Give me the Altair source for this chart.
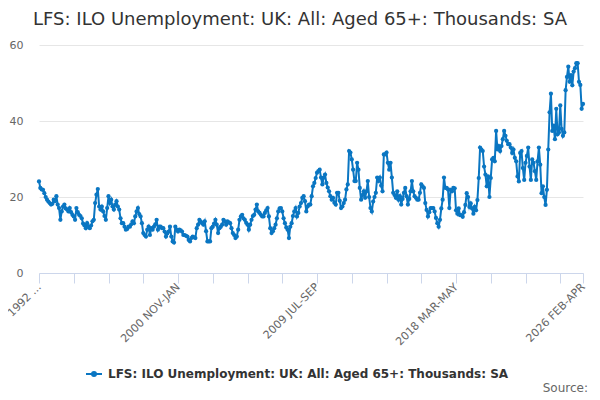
import altair as alt
import pandas as pd

series_name = "LFS: ILO Unemployment: UK: All: Aged 65+: Thousands: SA"

values = [
    24.1, 22.4, 22.0, 21.9, 21.0, 20.0, 19.3, 18.8, 18.4, 18.0,
    18.2, 19.3, 18.9, 20.2, 18.0, 17.1, 14.0, 16.2, 17.5, 18.0,
    17.0, 16.7, 16.2, 17.1, 16.0, 15.3, 14.9, 14.0, 17.1, 16.0,
    15.3, 15.0, 14.4, 13.0, 12.5, 11.8, 13.1, 12.2, 11.8, 12.5,
    13.6, 14.0, 18.4, 20.6, 22.1, 17.5, 16.7, 17.5, 16.2, 15.0,
    14.0, 17.1, 20.2, 18.4, 19.3, 17.5, 16.7, 18.0, 18.9, 17.5,
    16.7, 14.4, 13.1, 13.1, 12.2, 11.4, 11.6, 12.2, 12.2, 12.8,
    13.6, 13.1, 14.9, 16.2, 17.1, 15.5, 14.9, 13.1, 10.5, 10.0,
    9.6, 11.4, 12.2, 10.0, 11.8, 11.4, 12.2, 12.8, 14.0, 11.4,
    12.2, 12.2, 11.8, 11.8, 10.9, 9.6, 10.4, 10.9, 12.2, 9.6,
    8.3, 8.0, 12.2, 11.4, 10.9, 11.4, 11.2, 10.9, 10.0, 10.0,
    9.8, 9.6, 8.7, 8.3, 9.2, 9.6, 9.4, 9.2, 11.8, 12.7,
    14.0, 13.5, 13.1, 12.7, 13.6, 11.0, 8.3, 8.3, 8.3, 11.8,
    12.2, 13.0, 14.0, 12.7, 10.5, 11.8, 12.2, 12.7, 14.0, 13.6,
    12.7, 13.6, 13.3, 13.1, 11.8, 10.5, 10.0, 9.2, 9.6, 11.4,
    14.0, 14.9, 15.3, 14.4, 14.0, 13.2, 12.7, 11.4, 12.7, 14.0,
    15.0, 15.3, 16.7, 18.0, 16.2, 15.8, 15.3, 14.9, 14.9, 15.8,
    16.5, 17.1, 14.9, 11.8, 10.5, 11.0, 11.8, 12.7, 14.4, 16.2,
    17.0, 17.1, 16.2, 14.4, 13.1, 12.0, 11.4, 9.2, 12.2, 13.1,
    15.0, 16.2, 17.1, 14.9, 15.8, 17.5, 18.4, 19.8, 20.2, 18.9,
    16.2, 17.5, 18.0, 18.0, 20.2, 22.8, 23.7, 25.0, 26.4, 26.8,
    27.2, 25.1, 23.3, 25.1, 25.9, 23.7, 22.5, 21.5, 20.2, 19.3,
    19.8, 18.5, 18.0, 21.1, 21.1, 19.0, 17.1, 17.5, 18.4, 19.3,
    22.0, 23.3, 32.1, 31.7, 29.9, 27.2, 24.2, 24.2, 29.0, 27.2,
    22.4, 19.3, 20.5, 21.5, 19.8, 21.5, 24.2, 20.0, 17.1, 16.2,
    18.8, 20.0, 21.1, 25.1, 24.2, 25.1, 23.0, 21.5, 31.2, 31.2,
    31.7, 29.0, 27.2, 29.0, 25.1, 21.1, 20.5, 19.8, 21.5, 19.3,
    20.2, 18.0, 19.5, 21.1, 22.4, 20.2, 18.0, 19.5, 21.5, 24.2,
    21.5, 20.2, 19.8, 19.3, 19.3, 21.1, 23.3, 22.8, 22.4, 18.4,
    16.6, 14.9, 16.0, 17.1, 17.1, 17.1, 16.2, 14.5, 13.1, 12.2,
    14.0, 17.0, 19.3, 25.1, 22.4, 22.4, 22.0, 17.1, 21.9, 21.5,
    22.4, 22.3, 16.5, 15.6, 17.0, 15.2, 15.2, 14.8, 16.0, 17.9,
    21.0, 20.0, 17.4, 18.3, 17.0, 15.6, 17.4, 16.5, 19.2, 25.0,
    33.0, 32.5, 32.1, 28.0, 25.9, 22.8, 25.4, 20.0, 25.0, 29.9,
    30.3, 29.4, 37.4, 32.5, 33.4, 32.1, 33.4, 35.2, 37.4, 36.1,
    34.8, 33.9, 33.9, 33.0, 31.6, 32.5, 30.3, 29.4, 25.4, 24.1,
    31.6, 32.1, 27.6, 24.5, 29.0, 30.8, 33.0, 28.0, 24.5, 29.9,
    29.0, 26.8, 24.5, 29.4, 33.0, 28.5, 21.0, 22.8, 20.0, 17.9,
    21.9, 32.5, 42.3, 47.2, 37.4, 38.8, 35.2, 43.2, 36.5, 37.0,
    44.1, 37.9, 36.1, 37.0, 48.1, 51.6, 54.3, 50.3, 52.1, 49.4,
    53.0, 53.9, 55.2, 55.2, 50.3, 49.5, 43.2, 44.5,
]

label_positions = [0, 104, 208, 312, 407]
label_texts = ["1992 ...", "2000 NOV-JAN", "2009 JUL-SEP", "2018 MAR-MAY", "2026 FEB-APR"]
tick_positions = list(range(0, 391, 26)) + [407]
y_ticks = [0, 20, 40, 60]

df = pd.DataFrame({
    "idx": list(range(len(values))),
    "value": values,
    "series": [series_name] * len(values),
})

label_expr = " : ".join(
    f"datum.value == {p} ? '{t}'" for p, t in zip(label_positions, label_texts)
) + " : ''"

BLUE = "#0a76c2"
FONT = "DejaVu Sans"

line = alt.Chart(df).mark_line(
    strokeWidth=2,
    point=alt.OverlayMarkDef(filled=True, size=18),
).encode(
    x=alt.X(
        "idx:Q",
        scale=alt.Scale(domain=[0, 407], nice=False, zero=False),
        axis=alt.Axis(
            values=tick_positions,
            labelExpr=label_expr,
            labelAngle=-45,
            labelAlign="right",
            labelBaseline="middle",
            labelPadding=2,
            labelOverlap=False,
            labelFlush=False,
            tickColor="#ccd6eb",
            domainColor="#ccd6eb",
            tickSize=10,
            grid=False,
            labelColor="#666666",
            labelFontSize=11,
            labelFont=FONT,
            title="",
        ),
    ),
    y=alt.Y(
        "value:Q",
        scale=alt.Scale(domain=[0, 60], nice=False),
        axis=alt.Axis(
            values=y_ticks,
            domain=False,
            ticks=False,
            gridColor="#e6e6e6",
            labelPadding=16,
            labelColor="#666666",
            labelFontSize=11,
            labelFont=FONT,
            title="",
        ),
    ),
    color=alt.Color(
        "series:N",
        scale=alt.Scale(domain=[series_name], range=[BLUE]),
        legend=alt.Legend(
            title="",
            orient="none",
            legendX=46,
            legendY=320,
            symbolType="M-1,0L1,0M-0.25,0A0.25,0.25,0,1,0,0.25,0A0.25,0.25,0,1,0,-0.25,0",
            symbolSize=256,
            symbolStrokeWidth=2,
            symbolFillColor=BLUE,
            symbolStrokeColor=BLUE,
            labelFont=FONT,
            labelFontSize=12,
            labelFontWeight="bold",
            labelColor="#333333",
            labelLimit=700,
            labelOffset=5,
            padding=0,
        ),
    ),
)

source = alt.Chart(pd.DataFrame({"t": ["Source:"]})).mark_text(
    align="right", baseline="middle", font=FONT, fontSize=12, color="#666666"
).encode(text="t:N", x=alt.value(549), y=alt.value(343))

chart = alt.layer(line, source).properties(
    width=544,
    height=228,
    padding={"left": 31, "top": 37, "right": 9, "bottom": 119},
    autosize=alt.AutoSizeParams(type="none"),
    title=alt.TitleParams(
        text=series_name,
        font=FONT,
        fontSize=18,
        fontWeight="normal",
        color="#333333",
        anchor="middle",
        frame="group",
        dx=-11,
        offset=10,
    ),
).configure_view(stroke=None)

chart.save("out.html", embed_options={"renderer": "svg", "actions": False})
